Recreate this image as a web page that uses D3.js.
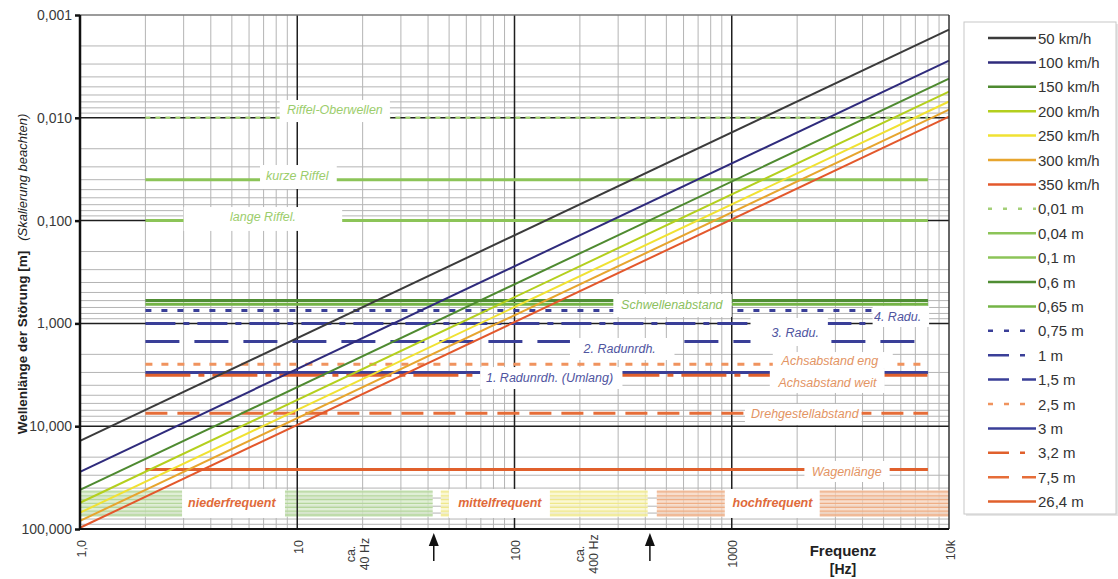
<!DOCTYPE html>
<html>
<head>
<meta charset="utf-8">
<script src="https://cdn.jsdelivr.net/npm/d3@7"></script>
<style>
  html, body { margin: 0; padding: 0; background: #fff; }
  svg { display: block; font-family: "Liberation Sans", Arial, Helvetica, sans-serif; }
</style>
</head>
<body>
<svg id="chart" width="1118" height="579"></svg>
<script>
// ---- Axes ----
const xTickValues = [1, 10, 100, 1000, 10000];
const xTickLabels = ["1,0", "10", "100", "1000", "10k"];
const yTickValues = [0.001, 0.01, 0.1, 1, 10, 100];
const yTickLabels = ["0,001", "0,010", "0,100", "1,000", "10,000", "100,000"];

// ---- Train speeds (wavelength = speed / frequency) ----
const speedNames = ["50 km/h", "100 km/h", "150 km/h", "200 km/h", "250 km/h", "300 km/h", "350 km/h"];
const speedsKmh = [50, 100, 150, 200, 250, 300, 350];

// ---- Fixed wavelengths of track and vehicle ----
const wavelengthNames = ["0,01 m", "0,04 m", "0,1 m", "0,6 m", "0,65 m", "0,75 m", "1 m", "1,5 m", "2,5 m", "3 m", "3,2 m", "7,5 m", "26,4 m"];
const wavelengths = [0.01, 0.04, 0.1, 0.6, 0.65, 0.75, 1, 1.5, 2.5, 3, 3.2, 7.5, 26.4];
const wavelengthSpan = [2, 8000];   // Hz

// ---- Frequency bands ----
const bandNames = ["niederfrequent", "mittelfrequent", "hochfrequent"];
const bandRanges = [[1, 42], [45.8, 410], [452, 10000]];

// ---- Approximate band limits ----
const limitFrequencies = [42.5, 420];
const limitNames = [["ca.", "40 Hz"], ["ca.", "400 Hz"]];

// ---- Annotation texts ----
const annotationTexts = [
  "Riffel-Oberwellen", "kurze Riffel", "lange Riffel.", "Schwellenabstand",
  "4. Radu.", "3. Radu.", "2. Radunrdh.", "Achsabstand eng", "Achsabstand weit",
  "1. Radunrdh. (Umlang)", "Drehgestellabstand", "Wagenlänge"
];

// ---------------- styles & layout ----------------
const W = 1118, H = 579;
const plot = { left: 80, right: 949, top: 15, bottom: 529 };

const speedColors = ["#3b3b3b", "#2f2b7c", "#4e8a30", "#b4cf1e", "#f0e233", "#e7a52e", "#e3582c"];

const blue = "#3a3f98", orange = "#e0602c";
const wavelengthStyles = [
  { color: "#a4d078", width: 2.5, dash: "5,5",        legendDash: "4,11" },
  { color: "#8cc458", width: 3 },
  { color: "#8cc458", width: 3 },
  { color: "#4f8d33", width: 3 },
  { color: "#74b446", width: 3 },
  { color: blue,      width: 3, dash: "6,10",       legendDash: "5,11" },
  { color: blue,      width: 3, dash: "30,8,6,8",   legendDash: "21,11,5,11" },
  { color: blue,      width: 3, dash: "34,15",      legendDash: "21,13" },
  { color: "#f0935e", width: 3, dash: "7,9",        legendDash: "5,11" },
  { color: blue,      width: 3 },
  { color: orange,    width: 3, dash: "45,8,6,8",   legendDash: "21,11,5,11" },
  { color: "#e66d38", width: 3, dash: "22,10",      legendDash: "21,13" },
  { color: orange,    width: 3 }
];

const green = "#9ccd6c", labelBlue = "#50559f", labelOrange = "#e39463";
// anchor (f, lam) of each text and the white box [f0, f1, lam0, lam1] behind it
const annotationLayout = [
  { f: 14.9, lam: 0.0084, box: [8.3, 26.7, 0.00671, 0.0110], color: green },
  { f: 10,   lam: 0.0368, box: [6.74, 15.2, 0.0288, 0.0493], color: green },
  { f: 6.96, lam: 0.0923, box: [3.0, 16.1, 0.0738, 0.126],   color: green },
  { f: 530,  lam: 0.655,  box: [285, 1000, 0.518, 0.866],    color: "#8cbf5e" },
  { f: 5800, lam: 0.866,  box: [4450, 8100, 0.677, 1.084],   color: labelBlue },
  { f: 1960, lam: 1.24,   box: [1220, 2770, 0.886, 1.659],   color: labelBlue },
  { f: 305,  lam: 1.774,  box: [180, 545, 1.387, 2.27],      color: labelBlue },
  { f: 2830, lam: 2.32,   box: [1545, 5510, 1.90, 2.72],     color: labelOrange },
  { f: 2760, lam: 3.80,   box: [1497, 5050, 2.72, 4.75],     color: labelOrange },
  { f: 145,  lam: 3.40,   box: [69.5, 314, 2.66, 4.35],      color: labelBlue },
  { f: 2170, lam: 7.60,   box: [1150, 3960, 6.08, 9.73],     color: labelOrange },
  { f: 3380, lam: 27.9,   box: [2160, 5330, 21.8, 34.9],     color: labelOrange }
];

const bandLam = [41.7, 76.4];
const bandStyles = [
  { fill: "#d6e9c8", stripe: "#b5d69c", labelF: 5.0,  box: [2.95, 8.78] },
  { fill: "#f9f5c4", stripe: "#efe88c", labelF: 85.6, box: [49.9, 145.5] },
  { fill: "#f5d3bc", stripe: "#eeae86", labelF: 1540, box: [929, 2540] }
];
const limitLabelF = [19, 215];

// ---------------- scales ----------------
const x = d3.scaleLog().domain([1, 10000]).range([plot.left, plot.right]);
const y = d3.scaleLog().domain([0.001, 100]).range([plot.top, plot.bottom]);

const svg = d3.select("#chart");

// ---- grid ----
const minorX = [], minorY = [];
for (let e = 0; e < 4; e++) for (let k = 2; k <= 9; k++) minorX.push(k * Math.pow(10, e));
for (let e = -3; e < 2; e++) for (let k = 2; k <= 9; k++) minorY.push(k * Math.pow(10, e));

const grid = svg.append("g");
grid.selectAll(".mx").data(minorX).join("line")
  .attr("x1", d => x(d)).attr("x2", d => x(d))
  .attr("y1", plot.top).attr("y2", plot.bottom)
  .attr("stroke", "#b4b4b4").attr("stroke-width", 1);
grid.selectAll(".my").data(minorY).join("line")
  .attr("x1", plot.left).attr("x2", plot.right)
  .attr("y1", d => y(d)).attr("y2", d => y(d))
  .attr("stroke", "#b4b4b4").attr("stroke-width", 1);

// ---- frequency bands ----
const bands = svg.append("g");
bandRanges.forEach((r, i) => {
  const st = bandStyles[i];
  const y0 = y(bandLam[0]), y1 = y(bandLam[1]);
  bands.append("rect")
    .attr("x", x(r[0])).attr("y", y0)
    .attr("width", x(r[1]) - x(r[0])).attr("height", y1 - y0)
    .attr("fill", st.fill).attr("opacity", 0.75);
  const n = 7;
  for (let k = 0; k < n; k++) {
    const yy = y0 + 2 + k * (y1 - y0 - 4) / (n - 1);
    bands.append("line")
      .attr("x1", x(r[0])).attr("x2", x(r[1]))
      .attr("y1", yy).attr("y2", yy)
      .attr("stroke", st.stripe).attr("stroke-width", 1.3);
  }
});

// ---- major grid ----
const majorGrid = svg.append("g");
majorGrid.selectAll(".Mx").data(xTickValues.slice(1, -1)).join("line")
  .attr("x1", d => x(d)).attr("x2", d => x(d))
  .attr("y1", plot.top).attr("y2", plot.bottom)
  .attr("stroke", "#1e1e1e").attr("stroke-width", 1.5);
majorGrid.selectAll(".My").data(yTickValues.slice(1, -1)).join("line")
  .attr("x1", plot.left).attr("x2", plot.right)
  .attr("y1", d => y(d)).attr("y2", d => y(d))
  .attr("stroke", "#1e1e1e").attr("stroke-width", 1.5);

// ---- fixed wavelength lines ----
const refG = svg.append("g");
wavelengths.forEach((lam, i) => {
  const st = wavelengthStyles[i];
  refG.append("line")
    .attr("x1", x(wavelengthSpan[0])).attr("x2", x(wavelengthSpan[1]))
    .attr("y1", y(lam)).attr("y2", y(lam))
    .attr("stroke", st.color).attr("stroke-width", st.width)
    .attr("stroke-dasharray", st.dash || null);
});

// ---- speed lines ----
const line = d3.line().x(d => x(d[0])).y(d => y(d[1]));
const speedG = svg.append("g");
speedsKmh.forEach((v, i) => {
  const ms = v / 3.6;
  const pts = x.domain().map(f => [f, ms / f]);
  speedG.append("path")
    .attr("d", line(pts))
    .attr("fill", "none")
    .attr("stroke", speedColors[i]).attr("stroke-width", 2);
});

// ---- annotation boxes and texts ----
const annG = svg.append("g");
annotationLayout.forEach((a, i) => {
  const [f0, f1, l0, l1] = a.box;
  annG.append("rect")
    .attr("x", x(f0)).attr("y", y(l0))
    .attr("width", x(f1) - x(f0)).attr("height", y(l1) - y(l0))
    .attr("fill", "#fff");
});
annotationLayout.forEach((a, i) => {
  annG.append("text")
    .attr("x", x(a.f)).attr("y", y(a.lam))
    .attr("text-anchor", "middle").attr("dominant-baseline", "central")
    .attr("font-size", 12.5).attr("font-style", "italic")
    .attr("fill", a.color)
    .text(annotationTexts[i]);
});

// band labels
bandNames.forEach((name, i) => {
  const st = bandStyles[i];
  const y0 = y(bandLam[0]) - 1, y1 = y(bandLam[1]) + 1;
  annG.append("rect")
    .attr("x", x(st.box[0])).attr("y", y0)
    .attr("width", x(st.box[1]) - x(st.box[0])).attr("height", y1 - y0)
    .attr("fill", "#fff");
  annG.append("text")
    .attr("x", x(st.labelF)).attr("y", (y0 + y1) / 2)
    .attr("text-anchor", "middle").attr("dominant-baseline", "central")
    .attr("font-size", 12.5).attr("font-style", "italic").attr("font-weight", "bold")
    .attr("fill", "#e06a3a")
    .text(name);
});

// ---- frame ----
const frame = svg.append("g");
frame.append("line").attr("x1", plot.left).attr("x2", plot.right)
  .attr("y1", plot.top).attr("y2", plot.top).attr("stroke", "#7a7a7a").attr("stroke-width", 1.5);
frame.append("line").attr("x1", plot.right).attr("x2", plot.right)
  .attr("y1", plot.top).attr("y2", plot.bottom).attr("stroke", "#333").attr("stroke-width", 1.5);
frame.append("line").attr("x1", plot.left).attr("x2", plot.right)
  .attr("y1", plot.bottom).attr("y2", plot.bottom).attr("stroke", "#111").attr("stroke-width", 2);
frame.append("line").attr("x1", plot.left).attr("x2", plot.left)
  .attr("y1", plot.top).attr("y2", plot.bottom).attr("stroke", "#111").attr("stroke-width", 2.5);

// ---- y axis ----
const yAxis = svg.append("g")
  .attr("transform", `translate(${plot.left},0)`)
  .call(d3.axisLeft(y).tickValues(yTickValues)
    .tickFormat((d, i) => yTickLabels[i]).tickSize(5).tickPadding(3));
yAxis.select(".domain").remove();
yAxis.selectAll(".tick line").attr("stroke", "#111").attr("stroke-width", 2.5);
yAxis.selectAll(".tick text")
  .attr("font-size", 14).attr("fill", "#3a3a3a")
  .attr("font-family", "Liberation Sans, Arial, sans-serif");

// ---- x axis ----
const xAxis = svg.append("g")
  .attr("transform", `translate(0,${plot.bottom})`)
  .call(d3.axisBottom(x).tickValues(xTickValues)
    .tickFormat((d, i) => xTickLabels[i]).tickSize(0));
xAxis.select(".domain").remove();
xAxis.selectAll(".tick text")
  .attr("transform", "rotate(-90)")
  .attr("text-anchor", "end")
  .attr("x", -11).attr("y", 0).attr("dy", "0.4em")
  .attr("font-size", 12.5).attr("fill", "#3a3a3a")
  .attr("font-family", "Liberation Sans, Arial, sans-serif");

// band limit arrows and their labels
const limG = svg.append("g");
limitFrequencies.forEach((f, i) => {
  const ax = x(f);
  limG.append("path")
    .attr("d", `M${ax},533 L${ax - 5},546 L${ax + 5},546 Z`)
    .attr("fill", "#111");
  limG.append("line")
    .attr("x1", ax).attr("x2", ax).attr("y1", 545).attr("y2", 561)
    .attr("stroke", "#111").attr("stroke-width", 1.5);
  const lx = x(limitLabelF[i]);
  limitNames[i].forEach((t, k) => {
    limG.append("text")
      .attr("transform", `translate(${lx - 7 + k * 14},554) rotate(-90)`)
      .attr("text-anchor", "middle").attr("dominant-baseline", "central")
      .attr("font-size", 12.5).attr("fill", "#3a3a3a")
      .text(t);
  });
});

// axis titles
svg.append("text")
  .attr("x", 843).attr("y", 550)
  .attr("text-anchor", "middle").attr("dominant-baseline", "central")
  .attr("font-size", 15).attr("font-weight", "bold").attr("fill", "#222")
  .text("Frequenz");
svg.append("text")
  .attr("x", 843).attr("y", 569)
  .attr("text-anchor", "middle").attr("dominant-baseline", "central")
  .attr("font-size", 14).attr("font-weight", "bold").attr("fill", "#222")
  .text("[Hz]");

const yTitle = svg.append("text")
  .attr("transform", "translate(22,274) rotate(-90)")
  .attr("text-anchor", "middle").attr("dominant-baseline", "central")
  .attr("fill", "#222");
yTitle.append("tspan").attr("font-size", 13.5).attr("font-weight", "bold")
  .text("Wellenlänge der Störung [m]");
yTitle.append("tspan").attr("font-size", 13).attr("font-style", "italic").attr("dx", 10)
  .text("(Skalierung beachten)");

// ---- legend ----
const legend = svg.append("g");
legend.append("rect")
  .attr("x", 966).attr("y", 24).attr("width", 152).attr("height", 492)
  .attr("fill", "#e6e6e6");
legend.append("rect")
  .attr("x", 964).attr("y", 22).attr("width", 152).attr("height", 492)
  .attr("fill", "#fff").attr("stroke", "#c8c8c8").attr("stroke-width", 1);

const legendItems = speedNames.map((n, i) => ({ name: n, color: speedColors[i], width: 2.5, dash: null }))
  .concat(wavelengthNames.map((n, i) => ({
    name: n, color: wavelengthStyles[i].color, width: 2.5,
    dash: wavelengthStyles[i].legendDash || null
  })));
const rowStep = 24.4, rowTop = 38;
legendItems.forEach((it, i) => {
  const yy = rowTop + i * rowStep;
  legend.append("line")
    .attr("x1", 988).attr("x2", 1036).attr("y1", yy).attr("y2", yy)
    .attr("stroke", it.color).attr("stroke-width", it.width)
    .attr("stroke-dasharray", it.dash);
  legend.append("text")
    .attr("x", 1038).attr("y", yy)
    .attr("dominant-baseline", "central")
    .attr("font-size", 15).attr("fill", "#333")
    .text(it.name);
});
</script>
</body>
</html>
